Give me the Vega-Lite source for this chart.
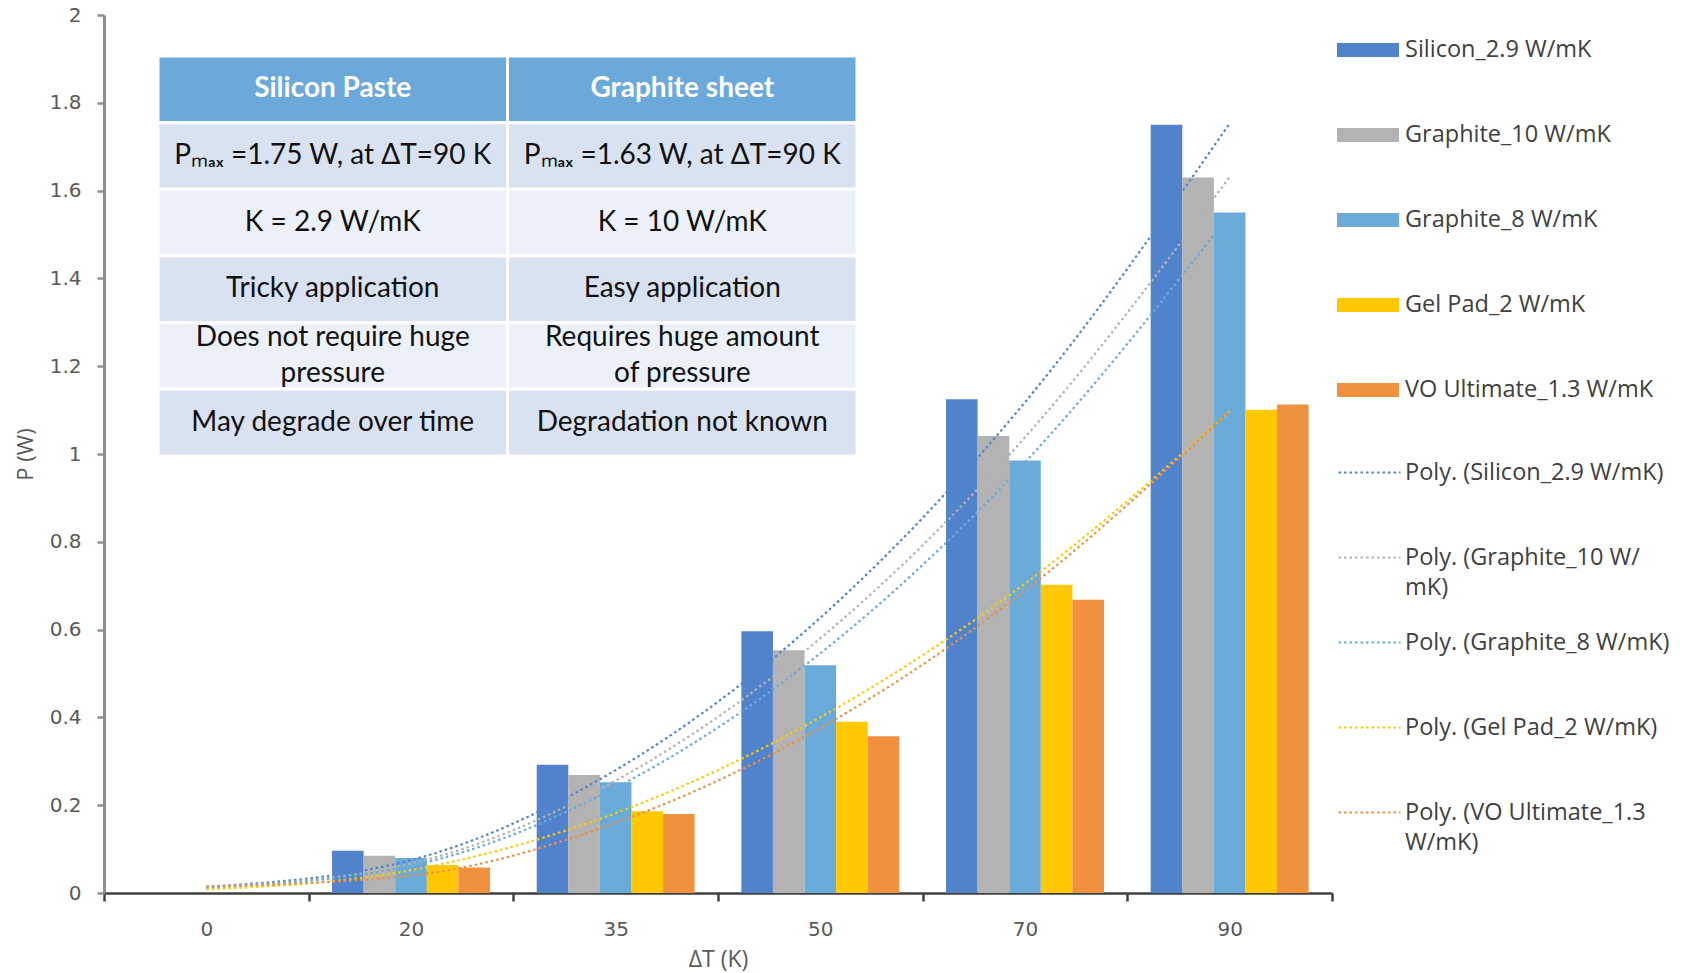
{
  "$schema": "https://vega.github.io/schema/vega-lite/v6.json",
  "width": 1228,
  "height": 878,
  "autosize": "none",
  "padding": {"left": 104, "top": 15, "right": 356, "bottom": 80},
  "background": "white",
  "config": {"view": {"stroke": null}, "font": "DejaVu Sans", "style": {"guide-label": {"lineHeight": 30}}},
  "datasets": {
    "bars": [
      {"dT": "0", "series": "Silicon_2.9 W/mK", "P": 0},
      {"dT": "0", "series": "Graphite_10 W/mK", "P": 0},
      {"dT": "0", "series": "Graphite_8 W/mK", "P": 0},
      {"dT": "0", "series": "Gel Pad_2 W/mK", "P": 0},
      {"dT": "0", "series": "VO Ultimate_1.3 W/mK", "P": 0},
      {"dT": "20", "series": "Silicon_2.9 W/mK", "P": 0.096},
      {"dT": "20", "series": "Graphite_10 W/mK", "P": 0.085},
      {"dT": "20", "series": "Graphite_8 W/mK", "P": 0.080},
      {"dT": "20", "series": "Gel Pad_2 W/mK", "P": 0.064},
      {"dT": "20", "series": "VO Ultimate_1.3 W/mK", "P": 0.058},
      {"dT": "35", "series": "Silicon_2.9 W/mK", "P": 0.292},
      {"dT": "35", "series": "Graphite_10 W/mK", "P": 0.269},
      {"dT": "35", "series": "Graphite_8 W/mK", "P": 0.252},
      {"dT": "35", "series": "Gel Pad_2 W/mK", "P": 0.186},
      {"dT": "35", "series": "VO Ultimate_1.3 W/mK", "P": 0.180},
      {"dT": "50", "series": "Silicon_2.9 W/mK", "P": 0.596},
      {"dT": "50", "series": "Graphite_10 W/mK", "P": 0.553},
      {"dT": "50", "series": "Graphite_8 W/mK", "P": 0.519},
      {"dT": "50", "series": "Gel Pad_2 W/mK", "P": 0.390},
      {"dT": "50", "series": "VO Ultimate_1.3 W/mK", "P": 0.357},
      {"dT": "70", "series": "Silicon_2.9 W/mK", "P": 1.125},
      {"dT": "70", "series": "Graphite_10 W/mK", "P": 1.041},
      {"dT": "70", "series": "Graphite_8 W/mK", "P": 0.985},
      {"dT": "70", "series": "Gel Pad_2 W/mK", "P": 0.702},
      {"dT": "70", "series": "VO Ultimate_1.3 W/mK", "P": 0.668},
      {"dT": "90", "series": "Silicon_2.9 W/mK", "P": 1.75},
      {"dT": "90", "series": "Graphite_10 W/mK", "P": 1.63},
      {"dT": "90", "series": "Graphite_8 W/mK", "P": 1.550},
      {"dT": "90", "series": "Gel Pad_2 W/mK", "P": 1.101},
      {"dT": "90", "series": "VO Ultimate_1.3 W/mK", "P": 1.113}
    ],
    "trend": [
      {"dT": "0", "trend": "Poly. (Silicon_2.9 W/mK)", "P": 0.014},
      {"dT": "20", "trend": "Poly. (Silicon_2.9 W/mK)", "P": 0.075},
      {"dT": "35", "trend": "Poly. (Silicon_2.9 W/mK)", "P": 0.280},
      {"dT": "50", "trend": "Poly. (Silicon_2.9 W/mK)", "P": 0.627},
      {"dT": "70", "trend": "Poly. (Silicon_2.9 W/mK)", "P": 1.118},
      {"dT": "90", "trend": "Poly. (Silicon_2.9 W/mK)", "P": 1.753},
      {"dT": "0", "trend": "Poly. (Graphite_10 W/mK)", "P": 0.012},
      {"dT": "20", "trend": "Poly. (Graphite_10 W/mK)", "P": 0.067},
      {"dT": "35", "trend": "Poly. (Graphite_10 W/mK)", "P": 0.256},
      {"dT": "50", "trend": "Poly. (Graphite_10 W/mK)", "P": 0.580},
      {"dT": "70", "trend": "Poly. (Graphite_10 W/mK)", "P": 1.038},
      {"dT": "90", "trend": "Poly. (Graphite_10 W/mK)", "P": 1.631},
      {"dT": "0", "trend": "Poly. (Graphite_8 W/mK)", "P": 0.012},
      {"dT": "20", "trend": "Poly. (Graphite_8 W/mK)", "P": 0.062},
      {"dT": "35", "trend": "Poly. (Graphite_8 W/mK)", "P": 0.240},
      {"dT": "50", "trend": "Poly. (Graphite_8 W/mK)", "P": 0.546},
      {"dT": "70", "trend": "Poly. (Graphite_8 W/mK)", "P": 0.981},
      {"dT": "90", "trend": "Poly. (Graphite_8 W/mK)", "P": 1.545},
      {"dT": "0", "trend": "Poly. (Gel Pad_2 W/mK)", "P": 0.008},
      {"dT": "20", "trend": "Poly. (Gel Pad_2 W/mK)", "P": 0.052},
      {"dT": "35", "trend": "Poly. (Gel Pad_2 W/mK)", "P": 0.182},
      {"dT": "50", "trend": "Poly. (Gel Pad_2 W/mK)", "P": 0.400},
      {"dT": "70", "trend": "Poly. (Gel Pad_2 W/mK)", "P": 0.705},
      {"dT": "90", "trend": "Poly. (Gel Pad_2 W/mK)", "P": 1.097},
      {"dT": "0", "trend": "Poly. (VO Ultimate_1.3 W/mK)", "P": 0.015},
      {"dT": "20", "trend": "Poly. (VO Ultimate_1.3 W/mK)", "P": 0.040},
      {"dT": "35", "trend": "Poly. (VO Ultimate_1.3 W/mK)", "P": 0.160},
      {"dT": "50", "trend": "Poly. (VO Ultimate_1.3 W/mK)", "P": 0.376},
      {"dT": "70", "trend": "Poly. (VO Ultimate_1.3 W/mK)", "P": 0.689},
      {"dT": "90", "trend": "Poly. (VO Ultimate_1.3 W/mK)", "P": 1.097}
    ],
    "table": [
      {"row": 0, "column": "Silicon Paste", "text": "Silicon Paste"},
      {"row": 0, "column": "Graphite sheet", "text": "Graphite sheet"},
      {"row": 1, "column": "Silicon Paste", "text": "Pₘₐₓ =1.75 W, at ΔT=90 K"},
      {"row": 1, "column": "Graphite sheet", "text": "Pₘₐₓ =1.63 W, at ΔT=90 K"},
      {"row": 2, "column": "Silicon Paste", "text": "K = 2.9 W/mK"},
      {"row": 2, "column": "Graphite sheet", "text": "K = 10 W/mK"},
      {"row": 3, "column": "Silicon Paste", "text": "Tricky application"},
      {"row": 3, "column": "Graphite sheet", "text": "Easy application"},
      {"row": 4, "column": "Silicon Paste", "text": "Does not require huge\npressure"},
      {"row": 4, "column": "Graphite sheet", "text": "Requires huge amount\nof pressure"},
      {"row": 5, "column": "Silicon Paste", "text": "May degrade over time"},
      {"row": 5, "column": "Graphite sheet", "text": "Degradation not known"}
    ]
  },
  "layer": [
    {
      "layer": [
        {
          "data": {"name": "bars"},
          "mark": {"type": "bar"},
          "encoding": {
            "x": {
              "field": "dT", "type": "nominal",
              "sort": ["0", "20", "35", "50", "70", "90"],
              "scale": {"type": "band", "paddingInner": 0, "paddingOuter": 0},
              "title": "ΔT (K)",
              "axis": {
                "labelAngle": 0, "tickBand": "extent",
                "domainColor": "#404040", "domainWidth": 2.5,
                "tickColor": "#404040", "tickWidth": 2.5, "tickSize": 8,
                "labelFont": "DejaVu Sans", "labelFontSize": 20, "labelColor": "#595959", "labelPadding": 18,
                "titleFont": "Open Sans", "titleFontSize": 23, "titleFontWeight": "normal", "titleColor": "#595959", "titlePadding": 9
              }
            },
            "xOffset": {
              "field": "series", "type": "nominal",
              "sort": ["Silicon_2.9 W/mK", "Graphite_10 W/mK", "Graphite_8 W/mK", "Gel Pad_2 W/mK", "VO Ultimate_1.3 W/mK"],
              "scale": {"paddingInner": 0, "paddingOuter": 0.74}
            },
            "y": {
              "field": "P", "type": "quantitative",
              "scale": {"domain": [0, 2], "nice": false},
              "title": "P (W)",
              "axis": {
                "grid": false, "format": "~g", "tickCount": 10,
                "domainColor": "#8C8C8C", "domainWidth": 3,
                "tickColor": "#8C8C8C", "tickWidth": 2.5, "tickSize": 7,
                "labelFont": "DejaVu Sans", "labelFontSize": 20, "labelColor": "#595959", "labelPadding": 16,
                "titleFont": "Open Sans", "titleFontSize": 22, "titleFontWeight": "normal", "titleColor": "#595959", "titlePadding": 12
              }
            },
            "color": {
              "field": "series", "type": "nominal",
              "scale": {
                "domain": ["Silicon_2.9 W/mK", "Graphite_10 W/mK", "Graphite_8 W/mK", "Gel Pad_2 W/mK", "VO Ultimate_1.3 W/mK"],
                "range": ["#5183CC", "#B3B3B3", "#6BABDA", "#FFC800", "#EF913F"]
              },
              "legend": {
                "orient": "none", "legendX": 1233, "legendY": 4, "title": null, "padding": 0,
                "symbolType": "M-1,-0.2258H1V0.2258H-1Z", "symbolSize": 3844, "symbolStrokeWidth": 0,
                "labelFont": "Open Sans", "labelFontSize": 23.5, "labelColor": "#404040", "labelOffset": 6, "labelLimit": 400,
                "rowPadding": 42
              }
            }
          }
        },
        {
          "data": {"name": "trend"},
          "mark": {"type": "line", "interpolate": "monotone", "strokeDash": [2.5, 3], "strokeWidth": 2.2},
          "encoding": {
            "x": {"field": "dT", "type": "nominal", "sort": ["0", "20", "35", "50", "70", "90"], "scale": {"type": "band", "paddingInner": 0, "paddingOuter": 0}},
            "y": {"field": "P", "type": "quantitative"},
            "stroke": {
              "field": "trend", "type": "nominal",
              "scale": {
                "domain": ["Poly. (Silicon_2.9 W/mK)", "Poly. (Graphite_10 W/mK)", "Poly. (Graphite_8 W/mK)", "Poly. (Gel Pad_2 W/mK)", "Poly. (VO Ultimate_1.3 W/mK)"],
                "range": ["#5183CC", "#B3B3B3", "#6BABDA", "#FFC800", "#EF913F"]
              },
              "legend": {
                "orient": "none", "legendX": 1233, "legendY": 425, "title": null, "padding": 0,
                "symbolType": "stroke", "symbolSize": 3844, "symbolStrokeWidth": 2.2, "symbolDash": [2.5, 3],
                "labelFont": "Open Sans", "labelFontSize": 23.5, "labelColor": "#404040", "labelOffset": 3, "labelLimit": 400,
                "labelExpr": "datum.label == 'Poly. (Graphite_10 W/mK)' ? ['Poly. (Graphite_10 W/', 'mK)'] : datum.label == 'Poly. (VO Ultimate_1.3 W/mK)' ? ['Poly. (VO Ultimate_1.3', 'W/mK)'] : datum.label",
                "gridAlign": "all",
                "rowPadding": 11
              }
            }
          }
        }
      ]
    },
    {
      "data": {"name": "table"},
      "encoding": {
        "x": {"field": "column", "type": "nominal", "sort": ["Silicon Paste", "Graphite sheet"], "scale": {"type": "band", "range": [54, 753], "paddingInner": 0, "paddingOuter": 0}, "axis": null},
        "y": {"field": "row", "type": "ordinal", "scale": {"type": "band", "range": [41, 441], "paddingInner": 0, "paddingOuter": 0}, "axis": null}
      },
      "layer": [
        {
          "mark": {"type": "rect", "stroke": "white", "strokeWidth": 3},
          "encoding": {
            "fill": {
              "condition": [
                {"test": "datum.row === 0", "value": "#6BA9DB"},
                {"test": "datum.row % 2 === 1", "value": "#D9E2F1"}
              ],
              "value": "#ECF1F9"
            }
          }
        },
        {
          "transform": [{"filter": "datum.row === 0"}],
          "mark": {"type": "text", "font": "Lato", "fontSize": 28, "fontWeight": "bold", "color": "white", "align": "center", "baseline": "middle"},
          "encoding": {"text": {"field": "text", "type": "nominal"}}
        },
        {
          "transform": [{"filter": "datum.row > 0 && datum.row !== 4"}],
          "mark": {"type": "text", "font": "Lato", "fontSize": 28, "color": "#111111", "align": "center", "baseline": "middle"},
          "encoding": {"text": {"field": "text", "type": "nominal"}}
        },
        {
          "transform": [{"filter": "datum.row === 4"}],
          "mark": {"type": "text", "font": "Lato", "fontSize": 28, "color": "#111111", "align": "center", "baseline": "middle", "lineBreak": "\n", "lineHeight": 36, "dy": -18},
          "encoding": {"text": {"field": "text", "type": "nominal"}}
        }
      ]
    }
  ],
  "resolve": {"scale": {"x": "independent", "y": "independent"}, "axis": {"x": "independent", "y": "independent"}}
}
